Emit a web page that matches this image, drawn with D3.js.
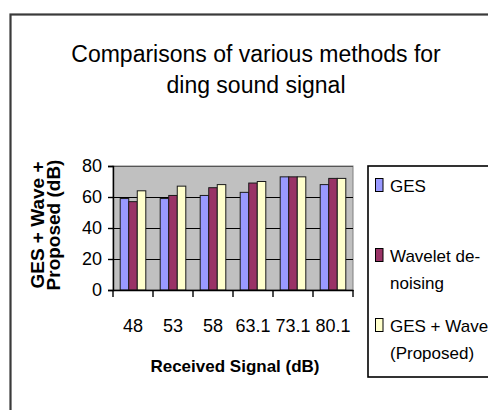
<!DOCTYPE html>
<html>
<head>
<meta charset="utf-8">
<script src="https://cdn.jsdelivr.net/npm/d3@7"></script>
<style>
  html, body { margin: 0; padding: 0; background: #fff; }
  svg { display: block; font-family: "Liberation Sans", Arial, sans-serif; }
</style>
</head>
<body>
<svg id="chart" width="488" height="410"></svg>
<script>
// Received signal levels (x categories)
const categories = ["48", "53", "58", "63.1", "73.1", "80.1"];
// Output levels (dB) for each method
const gesValues = [59, 59, 61, 63, 73, 68];
const waveletValues = [57, 61, 66, 69, 73, 72];
const proposedValues = [64, 67, 68, 70, 73, 72];
const seriesColors = ["#9999ff", "#993366", "#ffffcc"];
const yTickValues = [0, 20, 40, 60, 80];

const series = [gesValues, waveletValues, proposedValues];

const svg = d3.select("#chart");

// outer frame
svg.append("rect")
  .attr("x", 10.5).attr("y", 14.5)
  .attr("width", 600).attr("height", 600)
  .attr("fill", "none").attr("stroke", "#3a3a3a").attr("stroke-width", 2.2);

// title
const title = svg.append("text")
  .attr("text-anchor", "middle")
  .attr("font-size", 23)
  .attr("fill", "#000");
title.append("tspan").attr("x", 256).attr("y", 62).text("Comparisons of various methods for");
title.append("tspan").attr("x", 256).attr("y", 93).text("ding sound signal");

// plot area
const plot = { left: 113, right: 353, top: 166, bottom: 290 };

const x = d3.scaleBand()
  .domain(categories)
  .range([plot.left, plot.right])
  .padding(0);

const x1 = d3.scaleBand()
  .domain(d3.range(series.length))
  .range([x.bandwidth() * 0.18, x.bandwidth() * 0.82])
  .padding(0);

const y = d3.scaleLinear()
  .domain([0, 80])
  .range([plot.bottom, plot.top]);

svg.append("rect")
  .attr("x", plot.left).attr("y", plot.top)
  .attr("width", plot.right - plot.left).attr("height", plot.bottom - plot.top)
  .attr("fill", "#c0c0c0").attr("stroke", "#808080").attr("stroke-width", 1);

// gridlines
svg.append("g")
  .selectAll("line")
  .data(yTickValues.filter(v => v > 0))
  .join("line")
  .attr("x1", plot.left).attr("x2", plot.right)
  .attr("y1", d => Math.round(y(d)) + 0.5).attr("y2", d => Math.round(y(d)) + 0.5)
  .attr("stroke", d => d === 80 ? "#555" : "#000")
  .attr("stroke-width", 1.2);

// bars
const groups = svg.append("g")
  .selectAll("g")
  .data(categories)
  .join("g")
  .attr("transform", d => `translate(${x(d)},0)`);

groups.selectAll("rect")
  .data((d, i) => series.map((s, k) => ({ k, v: s[i] })))
  .join("rect")
  .attr("x", d => x1(d.k))
  .attr("y", d => y(d.v))
  .attr("width", x1.bandwidth())
  .attr("height", d => y(0) - y(d.v))
  .attr("fill", d => seriesColors[d.k])
  .attr("stroke", "#1a1a1a")
  .attr("stroke-width", 1);

// y axis
const yAxis = svg.append("g")
  .attr("transform", `translate(${plot.left},0)`)
  .call(d3.axisLeft(y).tickValues(yTickValues).tickSize(5).tickPadding(6));
yAxis.select(".domain").attr("stroke", "#000").attr("stroke-width", 1.4);
yAxis.selectAll(".tick line").attr("stroke", "#000").attr("stroke-width", 1.4);
yAxis.selectAll(".tick text")
  .attr("font-size", 18).attr("fill", "#000")
  .attr("font-family", "\"Liberation Sans\", Arial, sans-serif");

// x axis
const xAxis = svg.append("g")
  .attr("transform", `translate(0,${plot.bottom})`)
  .call(d3.axisBottom(x).tickSize(0).tickPadding(29));
xAxis.select(".domain").attr("stroke", "#000").attr("stroke-width", 1.4);
xAxis.selectAll(".tick text")
  .attr("font-size", 18).attr("fill", "#000")
  .attr("font-family", "\"Liberation Sans\", Arial, sans-serif");

// category boundary ticks
const boundaries = categories.map(c => x(c)).concat([x.range()[1]]);
xAxis.append("g")
  .selectAll("line")
  .data(boundaries)
  .join("line")
  .attr("x1", d => d).attr("x2", d => d)
  .attr("y1", 0).attr("y2", 7)
  .attr("stroke", "#000").attr("stroke-width", 1.4);

// axis titles
svg.append("text")
  .attr("x", 235).attr("y", 372)
  .attr("text-anchor", "middle")
  .attr("font-size", 17).attr("font-weight", "bold")
  .text("Received Signal (dB)");

const yTitle = svg.append("text")
  .attr("transform", "translate(0,225) rotate(-90)")
  .attr("text-anchor", "middle")
  .attr("font-size", 19).attr("font-weight", "bold");
yTitle.append("tspan").attr("x", 0).attr("y", 44).text("GES + Wave +");
yTitle.append("tspan").attr("x", 0).attr("y", 60).text("Proposed (dB)");

// legend
const legend = svg.append("g");
legend.append("rect")
  .attr("x", 368).attr("y", 166)
  .attr("width", 200).attr("height", 211)
  .attr("fill", "#fff").attr("stroke", "#000").attr("stroke-width", 1.6);

const legendRows = [
  { k: 0, lines: ["GES"], y: 192 },
  { k: 1, lines: ["Wavelet de-", "noising"], y: 262 },
  { k: 2, lines: ["GES + Wave", "(Proposed)"], y: 332 }
];

legendRows.forEach(row => {
  legend.append("rect")
    .attr("x", 375.5).attr("y", row.y - 13.5)
    .attr("width", 7.5).attr("height", 13)
    .attr("fill", seriesColors[row.k])
    .attr("stroke", "#000").attr("stroke-width", 1);
  const t = legend.append("text")
    .attr("font-size", 17).attr("fill", "#000");
  row.lines.forEach((line, i) => {
    t.append("tspan").attr("x", 390).attr("y", row.y + i * 27).text(line);
  });
});
</script>
</body>
</html>
